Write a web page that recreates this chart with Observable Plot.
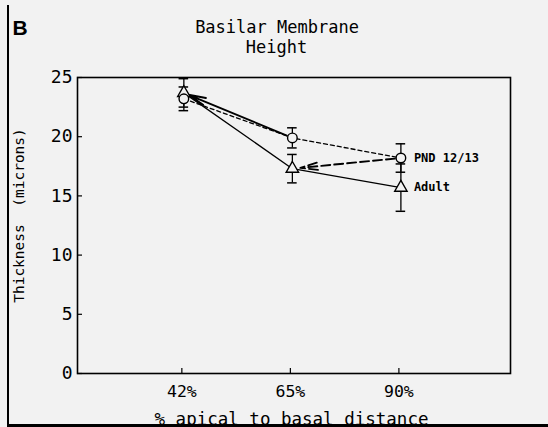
<!DOCTYPE html>
<html>
<head>
<meta charset="utf-8">
<script src="https://cdn.jsdelivr.net/npm/d3@7"></script>
<script src="https://cdn.jsdelivr.net/npm/@observablehq/plot@0.6"></script>
<style>
  html, body { margin: 0; padding: 0; background: #f2f2f2; }
  #wrap { position: relative; width: 548px; height: 427px; overflow: hidden; }
  #lb { position: absolute; left: 7px; top: 5px; width: 2px; height: 422px; background: #000; }
  #bb { position: absolute; left: 7px; top: 424px; width: 541px; height: 3px; background: #000; }
</style>
</head>
<body>
<div id="wrap"></div>
<script>
// ---- data ----
const categories = ["42%", "65%", "90%"];
const pndMean = [23.2, 19.9, 18.2];
const pndErr = [1.0, 0.85, 1.2];
const adultMean = [23.7, 17.3, 15.7];
const adultErr = [1.2, 1.2, 2.0];
const yTicks = [0, 5, 10, 15, 20, 25];
const seriesNames = ["PND 12/13", "Adult"];
// arrows: from PND point index to Adult point index
const arrowPairs = [[1, 0, "solid"], [2, 1, "dashed"]];

const bg = "#f2f2f2";
const pnd = categories.map((c, i) => ({x: i, y: pndMean[i], lo: pndMean[i] - pndErr[i], hi: pndMean[i] + pndErr[i]}));
const adult = categories.map((c, i) => ({x: i, y: adultMean[i], lo: adultMean[i] - adultErr[i], hi: adultMean[i] + adultErr[i]}));
const arrows = arrowPairs.map(([a, b, s]) => ({x1: a, y1: pndMean[a], x2: b, y2: adultMean[b], s}));
const capW = 0.044;
const caps = d => [...d.map(p => ({x: p.x, y: p.lo})), ...d.map(p => ({x: p.x, y: p.hi}))];
const mono = "DejaVu Sans Mono";
const T = {textAnchor: "middle", lineAnchor: "middle", fill: "black", text: d => d};

const chart = Plot.plot({
  width: 548,
  height: 427,
  marginLeft: 77,
  marginRight: 38,
  marginTop: 77,
  marginBottom: 54,
  style: {background: "transparent", fontFamily: mono, color: "black", overflow: "visible"},
  x: {domain: [-0.98, 3.01], axis: null},
  y: {domain: [0, 25], axis: null},
  marks: [
    Plot.axisY({ticks: yTicks, tickSize: -5, tickPadding: 10, fontSize: 18, label: null, stroke: "black", strokeWidth: 1.2}),
    Plot.axisX({ticks: [0, 1, 2], tickFormat: i => categories[i], tickSize: -5, tickPadding: 17, fontSize: 16.5, dx: -2, label: null, stroke: "black", strokeWidth: 1.2}),
    Plot.frame({stroke: "black", strokeWidth: 1.6}),
    // series lines
    Plot.line(pnd, {x: "x", y: "y", stroke: "black", strokeWidth: 1.3, strokeDasharray: "4,3"}),
    Plot.line(adult, {x: "x", y: "y", stroke: "black", strokeWidth: 1.3}),
    // arrows
    Plot.arrow(arrows.filter(d => d.s === "solid"), {x1: "x1", y1: "y1", x2: "x2", y2: "y2", stroke: "black", strokeWidth: 1.9, headLength: 14, headAngle: 24, insetStart: 6, insetEnd: 5}),
    Plot.arrow(arrows.filter(d => d.s === "dashed"), {x1: "x1", y1: "y1", x2: "x2", y2: "y2", stroke: "black", strokeWidth: 1.9, headLength: 14, headAngle: 24, insetStart: 6, insetEnd: 8, strokeDasharray: "9,4"}),
    // error bars
    Plot.ruleX(adult, {x: "x", y1: "lo", y2: "hi", stroke: "black", strokeWidth: 1.3}),
    Plot.ruleX(pnd, {x: "x", y1: "lo", y2: "hi", stroke: "black", strokeWidth: 1.3}),
    Plot.ruleY(caps(adult), {y: "y", x1: d => d.x - capW, x2: d => d.x + capW, stroke: "black", strokeWidth: 1.5}),
    Plot.ruleY(caps(pnd), {y: "y", x1: d => d.x - capW, x2: d => d.x + capW, stroke: "black", strokeWidth: 1.5}),
    // markers
    Plot.dot(adult, {x: "x", y: "y", symbol: "triangle", r: 4.6, fill: bg, stroke: "black", strokeWidth: 1.4}),
    Plot.dot(pnd, {x: "x", y: "y", symbol: "circle", r: 4.8, fill: bg, stroke: "black", strokeWidth: 1.4}),
    // series labels
    Plot.text([seriesNames[0]], {x: 2, y: pndMean[2], text: d => d, dx: 13, textAnchor: "start", fontSize: 12, fontWeight: "bold", fill: "black"}),
    Plot.text([seriesNames[1]], {x: 2, y: adultMean[2], text: d => d, dx: 13, textAnchor: "start", fontSize: 12, fontWeight: "bold", fill: "black"}),
    // titles
    Plot.text(["Basilar Membrane"], {...T, frameAnchor: "top-left", dx: 199.5, dy: -50, fontSize: 17}),
    Plot.text(["Height"], {...T, frameAnchor: "top-left", dx: 199, dy: -29.5, fontSize: 17}),
    Plot.text(["Thickness  (microns)"], {...T, frameAnchor: "left", rotate: -90, dx: -58, dy: -10, fontSize: 14.5}),
    Plot.text(["% apical to basal distance"], {...T, frameAnchor: "bottom-left", dx: 214, dy: 46, fontSize: 17.5}),
    Plot.text(["B"], {...T, frameAnchor: "top-left", dx: -65, dy: -49, textAnchor: "start", fontSize: 21, fontWeight: "bold", fontFamily: "Liberation Sans"})
  ]
});
const wrap = document.getElementById("wrap");
wrap.appendChild(chart);
const lb = document.createElement("div"); lb.id = "lb"; wrap.appendChild(lb);
const bb = document.createElement("div"); bb.id = "bb"; wrap.appendChild(bb);
</script>
</body>
</html>
